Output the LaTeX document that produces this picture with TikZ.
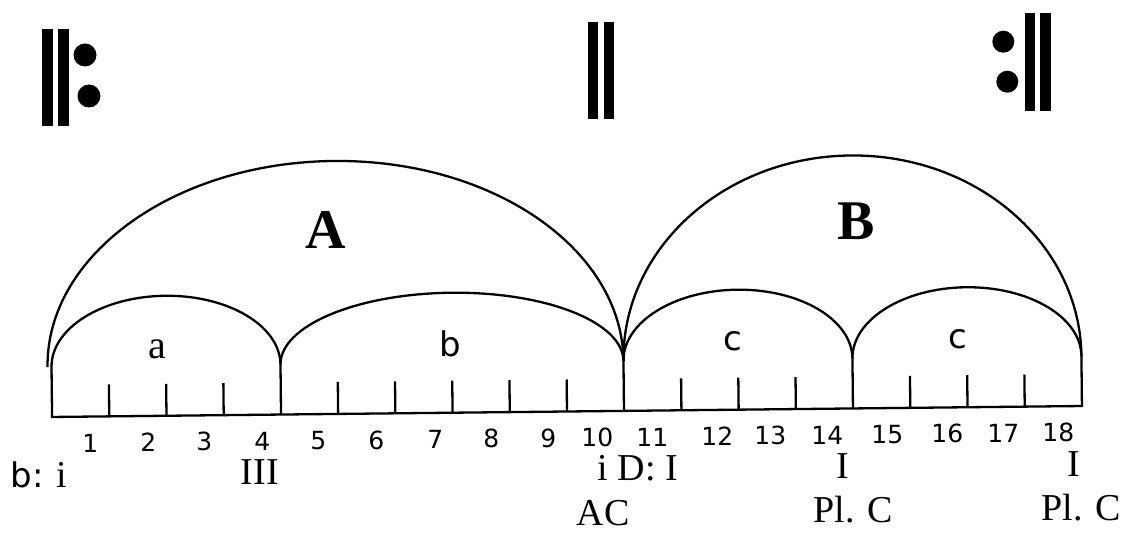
\documentclass[tikz,border=0pt]{standalone}
\usepackage{fontspec}
\setmainfont{Liberation Serif}
\newfontfamily\dv{DejaVu Sans}
\begin{document}
\begin{tikzpicture}[x=1pt,y=1pt,
  ln/.style={line width=2.3pt},
  bar/.style={fill=black},
  big/.style={anchor=base,inner sep=0pt,font=\fontsize{56}{56}\selectfont\bfseries},
  sml/.style={anchor=base,inner sep=0pt,font=\dv\fontsize{34}{34}\selectfont},
  sma/.style={anchor=base,inner sep=0pt,font=\fontsize{40}{40}\selectfont},
  num/.style={anchor=base,inner sep=0pt,font=\dv\fontsize{25}{25}\selectfont},
  rom/.style={anchor=base,inner sep=0pt,font=\fontsize{38}{38}\selectfont}]
\fill[white] (0,0) rectangle (1122,533);
\useasboundingbox (0,0) rectangle (1122,533);
% repeat signs
\fill[bar] (41.7,407) rectangle (53.3,504);
\fill[bar] (58.3,407) rectangle (69,504);
\fill (85,478) circle[radius=11.5];
\fill (89,437) circle[radius=11.5];
\fill[bar] (588.3,413.7) rectangle (598.3,511.3);
\fill[bar] (604,413.7) rectangle (614.3,511.3);
\fill (1003.3,491.3) circle[radius=11];
\fill (1007.3,451.3) circle[radius=11];
\fill[bar] (1025,422) rectangle (1035,519.7);
\fill[bar] (1040,422) rectangle (1050.7,519.7);
\begin{scope}[rotate around={0.61:(567,121.5)}]
% baseline and boundaries
\draw[ln] (52,171.5) -- (52,121.5) -- (1082,121.5) -- (1082,171.5);
\foreach \x in {281,624,853} \draw[ln] (\x,121.5) -- (\x,171.5);
\foreach \k in {1,2,3,5,6,7,8,9,11,12,13,15,16,17}
  \draw[ln] ({52+57.222*\k},121.5) -- ++(0,32);
% small arcs
\draw[ln] (52,171.5) arc[start angle=180,end angle=0,x radius=114.5,y radius=70];
\draw[ln] (281,171.5) arc[start angle=180,end angle=0,x radius=171.5,y radius=70];
\draw[ln] (624,171.5) arc[start angle=180,end angle=0,x radius=114.5,y radius=70];
\draw[ln] (853,171.5) arc[start angle=180,end angle=0,x radius=114.5,y radius=70];
% big arcs
\draw[ln] (48,171.5) arc[start angle=180,end angle=0,x radius=288,y radius=203];
\draw[ln] (624,171.5) arc[start angle=180,end angle=0,x radius=229,y radius=203];
% section labels
\node[big] (lA) at (327,287.5) {A};
\node[big] (lB) at (858,290.5) {B};
\node[sma] (la) at (158,178.5) {a};
\node[sml] (lb) at (451,177.5) {b};
\node[sml] (lc1) at (733,180.5) {c};
\node[sml] (lc2) at (959,180.5) {c};
% measure numbers
\foreach \n/\x in {1/90,2/148,3/204,4/262,5/318,6/376,7/435,8/491,9/548,10/597,11/652,12/717,13/770,14/827,15/887,16/947,17/1003,18/1058}
  \node[num] (m\n) at (\x,86) {\n};
% harmony
\node[rom] (h1) at (38,51.5) {{\dv\fontsize{34}{34}\selectfont b:} i};
\node[rom] (h2) at (259,51.5) {III};
\node[rom] (h3) at (637,51.5) {i D: I};
\node[rom] (h4) at (842,51.5) {I};
\node[rom] (h5) at (1073,51.5) {I};
\node[rom] (c1) at (602,7) {AC};
\node[rom] (c2) at (852,7) {Pl. C};
\node[rom] (c3) at (1080,7) {Pl. C};
\end{scope}
\end{tikzpicture}
\end{document}
